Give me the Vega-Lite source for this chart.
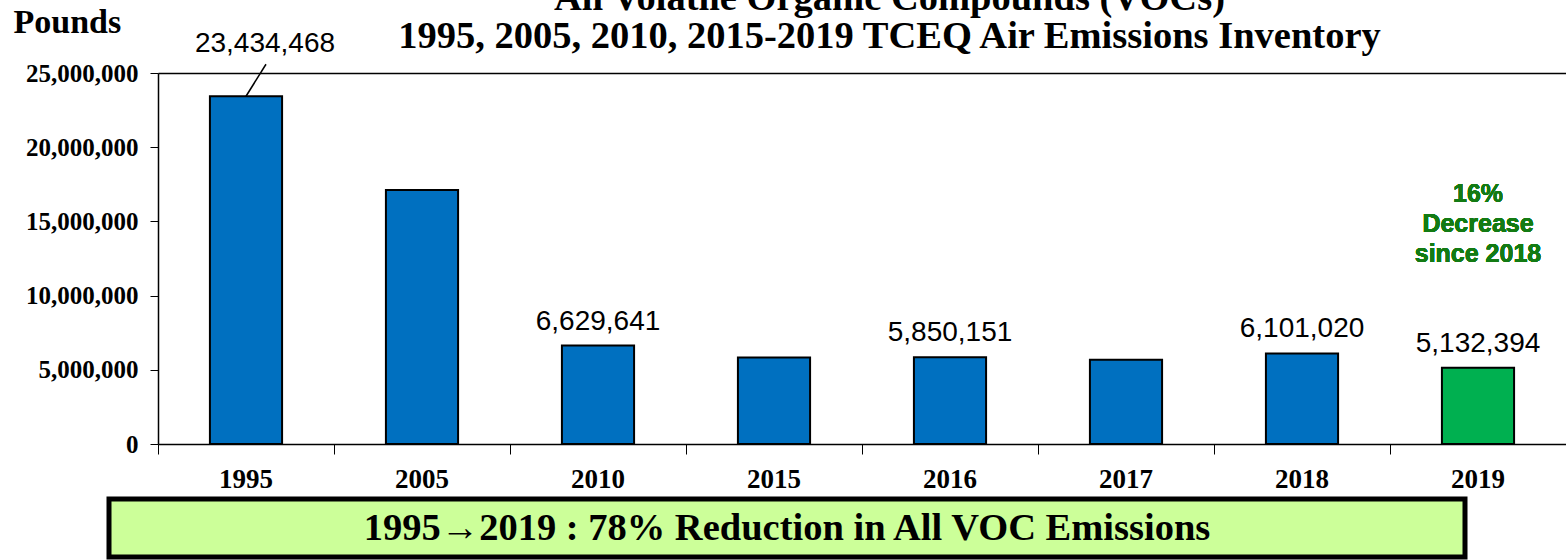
{
  "$schema": "https://vega.github.io/schema/vega-lite/v6.json",
  "autosize": {"type": "pad"},
  "padding": {"left": 13, "top": -22, "right": 0, "bottom": 0},
  "background": "white",
  "config": {"view": {"stroke": null}},
  "title": {
    "text": ["All Volatile Organic Compounds (VOCs)", "1995, 2005, 2010, 2015-2019 TCEQ Air Emissions Inventory"],
    "font": "Liberation Serif", "fontSize": 38.5, "fontWeight": "bold", "lineHeight": 38,
    "anchor": "middle", "dx": 100, "offset": -51, "color": "black"
  },
  "datasets": {
    "voc": [
      {"year": "1995", "value": 23434468},
      {"year": "2005", "value": 17120000},
      {"year": "2010", "value": 6629641},
      {"year": "2015", "value": 5830000},
      {"year": "2016", "value": 5850151},
      {"year": "2017", "value": 5670000},
      {"year": "2018", "value": 6101020},
      {"year": "2019", "value": 5132394}
    ]
  },
  "center": false,
  "spacing": 4,
  "vconcat": [
    {
      "width": 1457,
      "height": 371,
      "data": {"name": "voc"},
      "resolve": {"axis": {"x": "independent"}},
      "encoding": {
        "x": {"field": "year", "type": "ordinal", "sort": null, "scale": {"paddingInner": 0, "paddingOuter": 0, "range": [49, 1457]}},
        "y": {"field": "value", "type": "quantitative", "scale": {"domain": [0, 25000000], "nice": false}}
      },
      "layer": [
        {
          "mark": {"type": "bar", "width": {"band": 0.41}, "stroke": "black", "strokeWidth": 2},
          "encoding": {
            "x": {"field": "year", "type": "ordinal", "sort": null, "axis": {
              "orient": "bottom", "bandPosition": 0, "labels": false, "ticks": true, "tickSize": 10,
              "tickColor": "black", "tickWidth": 1, "domain": true, "domainColor": "black", "domainWidth": 1.5,
              "title": null, "grid": false}},
            "y": {"field": "value", "type": "quantitative", "axis": {
              "offset": -49,
              "values": [0, 5000000, 10000000, 15000000, 20000000, 25000000], "format": ",.0f",
              "labelFont": "Liberation Serif", "labelFontSize": 25, "labelFontWeight": "bold", "labelColor": "black",
              "labelPadding": 12, "tickSize": 8, "tickColor": "black", "tickWidth": 1,
              "domainColor": "black", "domainWidth": 1.5, "grid": false,
              "title": "Pounds", "titleAngle": 0, "titleX": -145, "titleY": -68, "titleAlign": "left", "titleBaseline": "top",
              "titleFont": "Liberation Serif", "titleFontSize": 34, "titleFontWeight": "bold", "titleColor": "black"}},
            "color": {"condition": {"test": "datum.year == '2019'", "value": "#00B050"}, "value": "#0070C0"}
          }
        },
        {
          "transform": [{"filter": "indexof(['2010','2016','2018','2019'], datum.year) >= 0"}],
          "mark": {"type": "text", "font": "Liberation Sans", "fontSize": 28, "color": "black", "baseline": "alphabetic", "dy": -16},
          "encoding": {
            "x": {"field": "year", "type": "ordinal", "sort": null, "axis": {
              "orient": "bottom", "labels": true, "ticks": false, "domain": false, "grid": false, "title": null,
              "labelAngle": 0, "labelFont": "Liberation Serif", "labelFontSize": 27, "labelFontWeight": "bold",
              "labelColor": "black", "labelPadding": 22, "labelBaseline": "top"}},
            "text": {"field": "value", "type": "quantitative", "format": ",d"}
          }
        },
        {
          "transform": [{"filter": "datum.year == '1995'"}],
          "mark": {"type": "text", "font": "Liberation Sans", "fontSize": 28, "color": "black", "baseline": "alphabetic", "dx": 19, "dy": -44},
          "encoding": {
            "x": {"field": "year", "type": "ordinal", "sort": null, "axis": {
              "orient": "top", "labels": false, "ticks": false, "domain": true, "domainColor": "black", "domainWidth": 1.5, "grid": false, "title": null}},
            "text": {"field": "value", "type": "quantitative", "format": ",d"}
          }
        },
        {
          "transform": [{"filter": "datum.year == '1995'"}],
          "mark": {"type": "rule", "color": "black", "strokeWidth": 1.5, "x2Offset": 20, "y2Offset": -32},
          "encoding": {
            "x": {"field": "year", "type": "ordinal", "sort": null, "axis": null},
            "x2": {"field": "year"},
            "y2": {"field": "value"}
          }
        },
        {
          "mark": {"type": "text", "text": ["16%", "Decrease", "since 2018"], "font": "Liberation Sans", "fontSize": 25,
                   "fontWeight": "bold", "color": "#137B13", "lineHeight": 30, "baseline": "alphabetic"},
          "encoding": {
            "x": {"datum": "2019", "type": "ordinal", "axis": null},
            "y": {"datum": 16330000, "type": "quantitative"}
          }
        }
      ]
    },
    {
      "width": 1356,
      "height": 58,
      "view": {"fill": "#CCFF99", "stroke": "black", "strokeWidth": 5},
      "data": {"values": [{"note": "1995→2019 : 78% Reduction in All VOC Emissions"}]},
      "mark": {"type": "text", "font": "Liberation Serif", "fontSize": 38.5, "fontWeight": "bold", "color": "black", "baseline": "middle"},
      "encoding": {
        "text": {"field": "note"}
      }
    }
  ]
}
